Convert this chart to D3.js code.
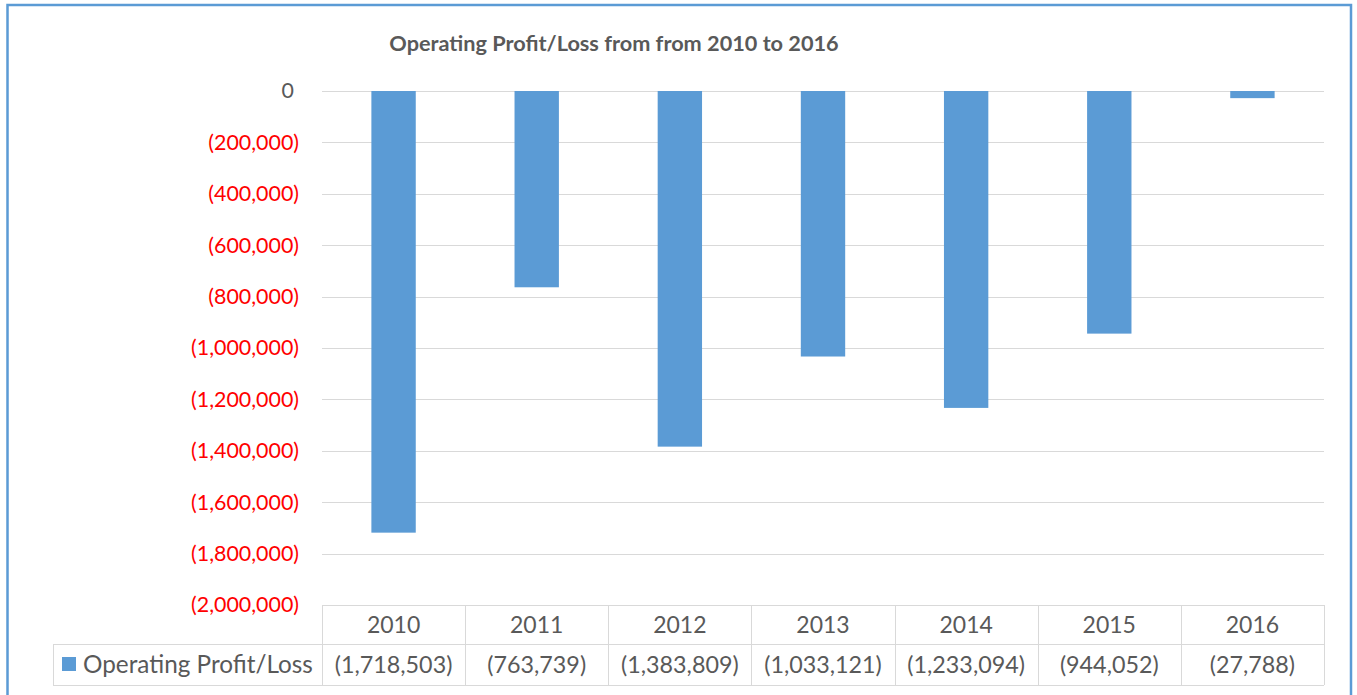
<!DOCTYPE html>
<html>
<head>
<meta charset="utf-8">
<script src="https://cdn.jsdelivr.net/npm/d3@7"></script>
<style>
  body { margin: 0; background: #fff; }
  svg { display: block; font-family: Lato, "Open Sans", sans-serif; }
</style>
</head>
<body>
<div id="chart"></div>
<script>
// Chart data
const years = ["2010", "2011", "2012", "2013", "2014", "2015", "2016"];
const profitLoss = [-1718503, -763739, -1383809, -1033121, -1233094, -944052, -27788];
const yTicks = [0, -200000, -400000, -600000, -800000, -1000000, -1200000, -1400000, -1600000, -1800000, -2000000];
const seriesName = "Operating Profit/Loss";
const title = "Operating Profit/Loss from from 2010 to 2016";

const width = 1357;
const height = 695;
const plot = { left: 322, right: 1324, top: 91, bottom: 605 };
const tableRow1 = 644;
const tableBottom = 685;
const legendLeft = 53;

const textGrey = "#595959";
const gridGrey = "#d9d9d9";
const barBlue = "#5b9bd5";

const svg = d3.select("#chart")
    .append("svg")
    .attr("width", width)
    .attr("height", height);

// Outer frame
svg.append("rect")
    .attr("x", 7.5)
    .attr("y", 5)
    .attr("width", 1343.5)
    .attr("height", 700)
    .attr("fill", "none")
    .attr("stroke", barBlue)
    .attr("stroke-width", 2.5);

// Scales
const xScale = d3.scaleBand()
    .domain(years)
    .range([plot.left, plot.right]);

const yScale = d3.scaleLinear()
    .domain([-2000000, 0])
    .range([plot.bottom, plot.top]);

const fmt = d3.format(",");
const accounting = v => v < 0 ? `(${fmt(-v)})` : fmt(v);

// Gridlines
svg.append("g")
    .selectAll("line")
    .data(yTicks)
    .enter()
    .append("line")
    .attr("x1", plot.left)
    .attr("x2", plot.right)
    .attr("y1", d => Math.round(yScale(d)) + 0.5)
    .attr("y2", d => Math.round(yScale(d)) + 0.5)
    .attr("stroke", gridGrey)
    .attr("stroke-width", 1);

// Y tick labels
svg.append("g")
    .selectAll("text")
    .data(yTicks)
    .enter()
    .append("text")
    .attr("x", d => d < 0 ? 299 : 294)
    .attr("y", d => yScale(d))
    .attr("dy", "0.35em")
    .attr("text-anchor", "end")
    .style("font-size", "21.4px")
    .style("fill", d => d < 0 ? "#ff0000" : textGrey)
    .text(accounting);

// Bars
const barWidth = xScale.bandwidth() * 0.31;
svg.append("g")
    .selectAll("rect")
    .data(years)
    .enter()
    .append("rect")
    .attr("x", d => xScale(d) + (xScale.bandwidth() - barWidth) / 2)
    .attr("y", yScale(0))
    .attr("width", barWidth)
    .attr("height", (d, i) => yScale(profitLoss[i]) - yScale(0))
    .attr("fill", barBlue);

// Data table
const table = svg.append("g")
    .attr("stroke", gridGrey)
    .attr("stroke-width", 1)
    .attr("fill", "none");

table.append("line")
    .attr("x1", plot.left).attr("x2", plot.right)
    .attr("y1", plot.bottom + 0.5).attr("y2", plot.bottom + 0.5);
table.append("line")
    .attr("x1", legendLeft).attr("x2", plot.right)
    .attr("y1", tableRow1 + 0.5).attr("y2", tableRow1 + 0.5);
table.append("line")
    .attr("x1", legendLeft).attr("x2", plot.right)
    .attr("y1", tableBottom + 0.5).attr("y2", tableBottom + 0.5);
table.append("line")
    .attr("x1", legendLeft + 0.5).attr("x2", legendLeft + 0.5)
    .attr("y1", tableRow1).attr("y2", tableBottom);
table.selectAll(".col")
    .data(years.concat(["end"]))
    .enter()
    .append("line")
    .attr("class", "col")
    .attr("x1", (d, i) => Math.round(plot.left + i * xScale.bandwidth()) + 0.5)
    .attr("x2", (d, i) => Math.round(plot.left + i * xScale.bandwidth()) + 0.5)
    .attr("y1", plot.bottom)
    .attr("y2", tableBottom);

// Year row
svg.append("g")
    .selectAll("text")
    .data(years)
    .enter()
    .append("text")
    .attr("x", d => xScale(d) + xScale.bandwidth() / 2)
    .attr("y", (plot.bottom + tableRow1) / 2)
    .attr("dy", "0.35em")
    .attr("text-anchor", "middle")
    .style("font-size", "23px")
    .style("fill", textGrey)
    .text(d => d);

// Value row
svg.append("g")
    .selectAll("text")
    .data(years)
    .enter()
    .append("text")
    .attr("x", d => xScale(d) + xScale.bandwidth() / 2)
    .attr("y", (tableRow1 + tableBottom) / 2)
    .attr("dy", "0.35em")
    .attr("text-anchor", "middle")
    .style("font-size", "23.3px")
    .style("fill", textGrey)
    .text((d, i) => accounting(profitLoss[i]));

// Legend key in table
svg.append("rect")
    .attr("x", 62)
    .attr("y", 657)
    .attr("width", 14)
    .attr("height", 14)
    .attr("fill", barBlue);

svg.append("text")
    .attr("x", 83)
    .attr("y", (tableRow1 + tableBottom) / 2)
    .attr("dy", "0.35em")
    .style("font-size", "24.3px")
    .style("fill", textGrey)
    .text(seriesName);

// Title
svg.append("text")
    .attr("x", 614)
    .attr("y", 43)
    .attr("dy", "0.35em")
    .attr("text-anchor", "middle")
    .style("font-size", "21.7px")
    .style("font-weight", "bold")
    .style("fill", textGrey)
    .text(title);
</script>
</body>
</html>
